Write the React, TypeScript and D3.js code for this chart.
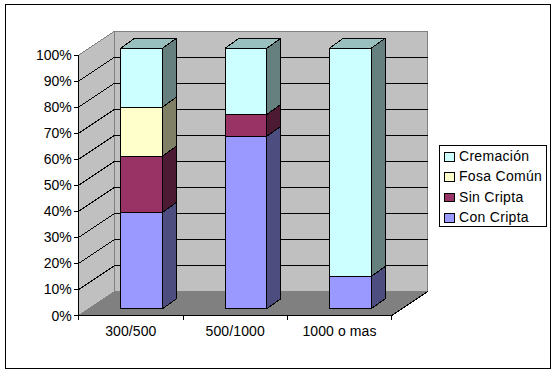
import React from "react";
import * as d3 from "d3";

const categories = ["300/500", "500/1000", "1000 o mas"];
const seriesNames = ["Con Cripta", "Sin Cripta", "Fosa Común", "Cremación"];
const conCripta = [37, 66.2, 12.4];
const sinCripta = [21.6, 8.4, 0];
const fosaComun = [18.8, 0, 0];
const cremacion = [22.6, 25.4, 87.6];
const seriesValues = [conCripta, sinCripta, fosaComun, cremacion];
const frontColors = ["#9999FF", "#993366", "#FFFFCC", "#CCFFFF"];
const sideColors = ["#4D4D80", "#4D1A33", "#808066", "#668080"];
const topColors = ["#7373BF", "#73264D", "#BFBF99", "#99BFBF"];
const ticks = [0, 10, 20, 30, 40, 50, 60, 70, 80, 90, 100];

const font = "'Liberation Sans', Arial, sans-serif";
const dx = 36, dy = -24;
const barDx = 14, barDy = -10;

export default function App() {
  const x = d3.scaleBand<string>().domain(categories).range([78.7, 391.7]).paddingInner(0).paddingOuter(0);
  const y = d3.scaleLinear().domain([0, 100]).range([315.5, 55]);
  const barW = 41.8;
  const offX = 10.8, offY = -6.8;
  const stack = d3.stack<number>().keys(d3.range(4) as any).value((i: any, k: any) => seriesValues[k][i]);
  const stacked = stack(d3.range(3) as any);
  const poly = (pts: number[][]) => pts.map((p) => p.join(",")).join(" ");
  const x0 = 78.7, x1 = 391.7, y0 = y(0), yT = y(100);
  return (
    <svg width={557} height={373} style={{ position: "absolute", left: 0, top: 0, background: "#fff" }} fontFamily={font}>
      <g shapeRendering="crispEdges">
        <rect x={5.5} y={4.5} width={545} height={364} fill="#fff" stroke="#000" strokeWidth={1} />
        {/* walls */}
        <polygon points={poly([[x0, y0], [x0 + dx, y0 + dy], [x0 + dx, yT + dy], [x0, yT]])} fill="#C0C0C0" stroke="#808080" />
        <polygon points={poly([[x0 + dx, y0 + dy], [x1 + dx, y0 + dy], [x1 + dx, yT + dy], [x0 + dx, yT + dy]])} fill="#C0C0C0" stroke="#808080" />
        <polygon points={poly([[x0, y0], [x1, y0], [x1 + dx, y0 + dy], [x0 + dx, y0 + dy]])} fill="#808080" />
        {ticks.filter((t) => t > 0 && t < 100).map((t) => (
          <polyline key={t} points={poly([[x0, y(t)], [x0 + dx, y(t) + dy], [x1 + dx, y(t) + dy]])} fill="none" stroke="#000" />
        ))}
        {/* axes */}
        <line x1={x0} y1={yT} x2={x0} y2={y0} stroke="#000" />
        <line x1={x0} y1={y0} x2={x1} y2={y0} stroke="#000" />
        <line x1={x1} y1={y0} x2={x1 + dx} y2={y0 + dy} stroke="#000" />
        {ticks.map((t) => (
          <line key={t} x1={x0 - 5} x2={x0} y1={y(t)} y2={y(t)} stroke="#000" />
        ))}
        {[0, 1, 2, 3].map((i) => {
          const px = x0 + (i * (x1 - x0)) / 3;
          return <line key={i} x1={px} x2={px} y1={y0} y2={y0 + 4} stroke="#000" />;
        })}
        {/* bars */}
        {categories.map((c, i) => {
          const l = (x(c) as number) + (x.bandwidth() - barW) / 2 + offX;
          const r = l + barW;
          return (
            <g key={c} stroke="#000" strokeLinejoin="round">
              {stacked.map((s, k) => {
                const [a, b] = s[i];
                if (b - a <= 0) return null;
                const ya = y(a) + offY, yb = y(b) + offY;
                return (
                  <g key={k}>
                    <polygon points={poly([[r, ya], [r + barDx, ya + barDy], [r + barDx, yb + barDy], [r, yb]])} fill={sideColors[k]} />
                    <rect x={l} y={yb} width={barW} height={ya - yb} fill={frontColors[k]} />
                  </g>
                );
              })}
              <polygon points={poly([[l, y(100) + offY], [l + barDx, y(100) + offY + barDy], [r + barDx, y(100) + offY + barDy], [r, y(100) + offY]])} fill={topColors[3]} />
            </g>
          );
        })}
        {/* legend */}
        <rect x={439.5} y={145.5} width={107} height={81} fill="#fff" stroke="#000" />
        {[3, 2, 1, 0].map((k, n) => (
          <rect key={k} x={444.5} y={152.5 + n * 20.4} width={9.5} height={8.5} fill={frontColors[k]} stroke="#000" />
        ))}
      </g>
      {ticks.map((t) => (
        <text key={t} x={x0 - 7} y={y(t) + 5} textAnchor="end" fontSize={14} fill="#000">{t}%</text>
      ))}
      {categories.map((c) => (
        <text key={c} x={(x(c) as number) + x.bandwidth() / 2} y={336} textAnchor="middle" fontSize={14} letterSpacing={0.1} fill="#000">{c}</text>
      ))}
      {[3, 2, 1, 0].map((k, n) => (
        <text key={k} x={459} y={161 + n * 20.4} fontSize={14} letterSpacing={0.3} fill="#000">{seriesNames[k]}</text>
      ))}
    </svg>
  );
}
